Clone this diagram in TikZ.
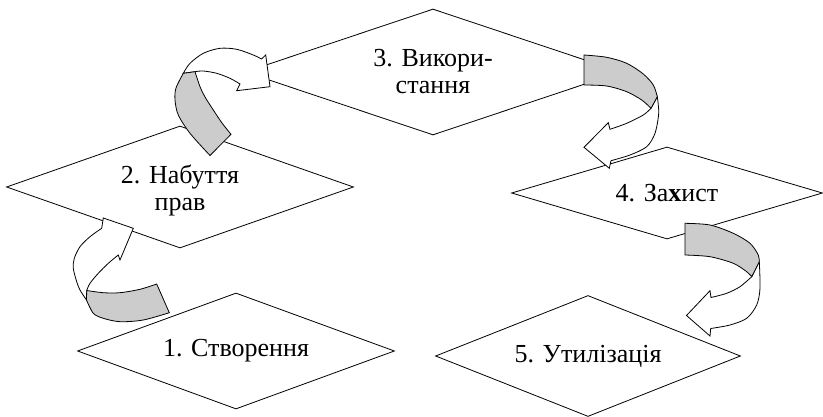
\documentclass[tikz,border=0pt]{standalone}
\usepackage{fontspec}
\setmainfont{Liberation Serif}
\usetikzlibrary{shapes.geometric}
\definecolor{band}{RGB}{204,204,204}
\begin{document}
\begin{tikzpicture}[x=1pt,y=-1pt,
  stage/.style={draw=black, line width=0.8pt, shape=diamond, inner sep=0pt, aspect=3, align=center, font=\fontsize{26}{27}\selectfont},
  body/.style={draw=black, fill=white, line width=0.8pt, line join=miter},
  under/.style={draw=black, fill=band, line width=0.8pt, line join=miter}]
\useasboundingbox (0,0) rectangle (823,417);
% stages
\node[stage, minimum width=317pt, minimum height=116pt] (d1) at (236,351) {1. Створення};
\node[stage, minimum width=347pt, minimum height=122pt] (d2) at (180,187) {\rule{0pt}{25pt}2. Набуття\\прав};
\node[stage, minimum width=376pt, minimum height=126pt] (d3) at (433,72) {3. Викори-\\стання};
\node[stage, minimum width=311pt, minimum height=92pt] (d4) at (667,193) {4. За\textbf{х}ист};
\node[stage, minimum width=305pt, minimum height=121pt] (d5) at (588,356) {5. Утилізація};
% arrow 1 -> 2
\draw[body] plot[smooth] coordinates {(86.5,300) (80,290) (76.7,281.7) (73.3,268.3) (74.3,258.3) (80,246.7) (90,236.7) (101.7,228.3)}
  -- (103.3,218) -- (133.3,228.3) -- (120,260)
  -- plot[smooth] coordinates {(118.3,255) (108.3,263.3) (98.3,273.3) (90,283.3) (86.7,290.5)} -- cycle;
\draw[under] plot[smooth] coordinates {(86.7,290.5) (103.3,292.7) (120,292.7) (140,289.3) (156.7,284)}
  -- (169.3,312.7)
  -- plot[smooth] coordinates {(169.3,312.7) (143.3,320) (120,321.7) (103.3,318.3) (93.3,313.3) (86.5,300)} -- cycle;
% arrow 2 -> 3
\draw[body] plot[smooth] coordinates {(183.3,73.3) (190,63.3) (203.3,53.3) (220,48.3) (236.7,49.3) (253.3,55) (261.5,59)}
  -- (265.7,55) -- (270,86.7) -- (236.7,90.7)
  -- plot[smooth] coordinates {(240,84) (230,78.3) (216.7,73.3) (203.3,71) (195,71.7)} -- cycle;
\draw[under] plot[smooth] coordinates {(183.3,73.3) (176,88) (175,100) (178.3,115) (190,133.3) (210,155.5)}
  -- (231,134.3)
  -- plot[smooth] coordinates {(231,134.3) (222,123) (213.3,110) (205,97) (200,86.7) (195,71.7)} -- cycle;
% arrow 3 -> 4
\draw[body] plot[smooth] coordinates {(657.3,96.7) (658.7,113.3) (655,133.3) (646.7,146.7) (630,155) (611,160.7)}
  -- (609.3,168.3) -- (584,147.3) -- (608.3,122.7)
  -- plot[smooth] coordinates {(610,129.3) (626.7,123.3) (643.3,115) (651,108.3)} -- cycle;
\draw[under] (584,85) -- plot[smooth] coordinates {(584,55) (606.7,57.3) (626.7,63.3) (643.3,74) (653.3,85) (657.3,96.7)}
  -- (651,108.3)
  -- plot[smooth] coordinates {(651,108.3) (641.7,100) (626.7,91.7) (606.7,86) (584,85)} -- cycle;
% arrow 4 -> 5
\draw[body] plot[smooth] coordinates {(759.3,261.7) (760,288.3) (756.7,305) (746.7,318.3) (730,325) (710.7,328.5)}
  -- (710,336) -- (686.5,315.5) -- (710,290.7)
  -- plot[smooth] coordinates {(711,297.5) (726.7,293.3) (740,286.7) (751.7,276.7)} -- cycle;
\draw[under] (685,255) -- plot[smooth] coordinates {(685,223.3) (710,225) (733.3,233.3) (750,243.3) (758.3,255) (759.3,261.7)}
  -- (751.7,276.7)
  -- plot[smooth] coordinates {(751.7,276.7) (746.7,271.7) (733.3,263.3) (710,256.7) (685,255)} -- cycle;
\end{tikzpicture}
\end{document}
